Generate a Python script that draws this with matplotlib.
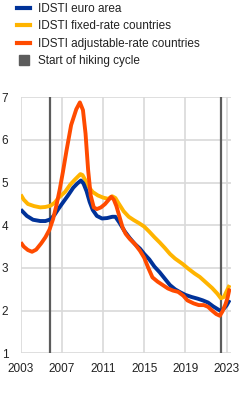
import matplotlib
matplotlib.use("Agg")
import matplotlib.pyplot as plt
from matplotlib.lines import Line2D

# IDSTI series (percentages per annum)
euro_years = [2003.0, 2003.6, 2004.2, 2004.9, 2005.4, 2005.9, 2006.3, 2006.65, 2007.0,
              2007.6, 2008.1, 2008.5, 2008.85, 2009.1, 2009.4, 2009.7, 2010.0, 2010.4,
              2010.9, 2011.4, 2011.9, 2012.2, 2012.6, 2013.1, 2013.6, 2014.1, 2014.6,
              2015.0, 2015.5, 2016.0, 2016.5, 2017.0, 2017.5, 2018.0, 2018.5, 2019.0,
              2019.6, 2020.2, 2020.7, 2021.2, 2021.7, 2022.1, 2022.45, 2022.75, 2023.0,
              2023.3]
euro_area = [4.37, 4.22, 4.13, 4.1, 4.1, 4.14, 4.25, 4.38, 4.5,
             4.7, 4.88, 4.98, 5.05, 4.98, 4.8, 4.55, 4.36, 4.22,
             4.16, 4.17, 4.2, 4.2, 4.06, 3.86, 3.7, 3.56, 3.45,
             3.33, 3.2, 3.03, 2.9, 2.75, 2.6, 2.5, 2.43, 2.37,
             2.32, 2.28, 2.24, 2.19, 2.1, 2.04, 1.99, 2.05, 2.12,
             2.25]

fixed_years = [2003.0, 2003.3, 2003.7, 2004.3, 2004.9, 2005.4, 2005.9, 2006.3, 2006.7,
               2007.3, 2007.8, 2008.3, 2008.8, 2009.0, 2009.3, 2009.6, 2010.0, 2010.5,
               2011.0, 2011.5, 2011.9, 2012.2, 2012.5, 2013.0, 2013.5, 2014.0, 2014.5,
               2015.0, 2015.5, 2016.0, 2016.5, 2017.0, 2017.5, 2018.0, 2018.7, 2019.3,
               2019.9, 2020.4, 2021.0, 2021.6, 2022.1, 2022.45, 2022.75, 2023.0, 2023.3]
fixed_rate = [4.72, 4.6, 4.5, 4.45, 4.42, 4.43, 4.46, 4.53, 4.65,
              4.78, 4.95, 5.08, 5.2, 5.18, 5.05, 4.9, 4.78, 4.7,
              4.65, 4.62, 4.68, 4.64, 4.52, 4.33, 4.2, 4.12, 4.05,
              3.97, 3.85, 3.72, 3.6, 3.47, 3.33, 3.22, 3.1, 2.98,
              2.87, 2.79, 2.66, 2.53, 2.4, 2.29, 2.32, 2.45, 2.6]

adjust_years = [2003.0, 2003.3, 2003.7, 2004.1, 2004.5, 2005.0, 2005.4, 2005.8, 2006.15,
                2006.5, 2006.8, 2007.1, 2007.45, 2007.9, 2008.4, 2008.75, 2009.05, 2009.3,
                2009.55, 2009.8, 2010.1, 2010.4, 2010.8, 2011.2, 2011.8, 2012.05, 2012.3,
                2012.6, 2012.9, 2013.2, 2013.6, 2014.1, 2014.6, 2015.0, 2015.4, 2015.8,
                2016.3, 2016.8, 2017.3, 2017.8, 2018.3, 2018.8, 2019.2, 2019.8, 2020.3,
                2020.8, 2021.2, 2021.6, 2022.0, 2022.35, 2022.6, 2022.9, 2023.1, 2023.3]
adjustable_rate = [3.6, 3.5, 3.42, 3.38, 3.43, 3.58, 3.72, 3.9, 4.15,
                   4.5, 4.85, 5.25, 5.75, 6.35, 6.72, 6.88, 6.7, 6.15,
                   5.3, 4.7, 4.42, 4.38, 4.42, 4.5, 4.67, 4.6, 4.45,
                   4.2, 3.95, 3.8, 3.68, 3.56, 3.4, 3.24, 3.0, 2.78,
                   2.68, 2.6, 2.52, 2.47, 2.44, 2.35, 2.24, 2.17, 2.13,
                   2.13, 2.09, 2.0, 1.92, 1.88, 1.98, 2.15, 2.3, 2.52]

hiking_starts = [2005.8, 2022.45]

x_ticks = [2003, 2007, 2011, 2015, 2019, 2023]
y_ticks = [1, 2, 3, 4, 5, 6, 7]

BLUE = "#003299"
YELLOW = "#ffb400"
ORANGE = "#ff4b00"
GREY = "#5c5c5c"

plt.rcParams["font.family"] = ["Liberation Sans", "DejaVu Sans"]

fig = plt.figure(figsize=(2.48, 3.94), dpi=100)
ax = fig.add_axes([0.0835, 0.1033, 0.8465, 0.6497])

for x in hiking_starts:
    ax.axvline(x, color=GREY, linewidth=1.6, zorder=2)

ax.plot(fixed_years, fixed_rate, color=YELLOW, linewidth=2.8, zorder=3, solid_capstyle="butt")
ax.plot(euro_years, euro_area, color=BLUE, linewidth=2.8, zorder=4, solid_capstyle="butt")
ax.plot(adjust_years, adjustable_rate, color=ORANGE, linewidth=2.8, zorder=5, solid_capstyle="butt")

ax.set_xlim(2003, 2023.4)
ax.set_ylim(1, 7)
ax.set_xticks(x_ticks)
ax.set_yticks(y_ticks)
ax.grid(True, color="#d9d9d9", linewidth=1.2)
ax.set_axisbelow(True)
for spine in ax.spines.values():
    spine.set_visible(False)
ax.tick_params(axis="both", length=0, labelsize=8.5, colors="#222222")
ax.tick_params(axis="y", pad=9)
ax.tick_params(axis="x", pad=7)
for lab in ax.get_yticklabels():
    lab.set_horizontalalignment("right")

handles = [
    Line2D([], [], color=BLUE, linewidth=3),
    Line2D([], [], color=YELLOW, linewidth=3),
    Line2D([], [], color=ORANGE, linewidth=3),
    Line2D([], [], color=GREY, marker="s", markersize=7, linestyle="none"),
]
labels = [
    "IDSTI euro area",
    "IDSTI fixed-rate countries",
    "IDSTI adjustable-rate countries",
    "Start of hiking cycle",
]
fig.legend(handles, labels, loc="upper left", bbox_to_anchor=(0.05, 1.004),
           frameon=False, fontsize=8.5, handlelength=1.1, handletextpad=0.7,
           labelspacing=0.45, borderaxespad=0, labelcolor="#222222")

fig.savefig("out.png", dpi=100)
plt.close(fig)
